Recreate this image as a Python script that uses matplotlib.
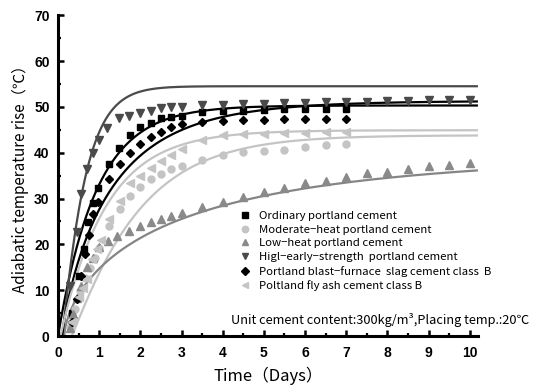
import numpy as np
import matplotlib
matplotlib.use("Agg")
import matplotlib.pyplot as plt
from matplotlib.lines import Line2D
from matplotlib.ticker import MultipleLocator

# ---- measured adiabatic temperature rise (days, deg C) ----
ord_t = [0.35, 0.5, 0.62, 0.74, 0.86, 0.97, 1.23, 1.49, 1.75, 2.0, 2.25, 2.5, 2.75, 3.0,
         3.5, 4.0, 4.5, 5.0, 5.5, 6.0, 6.5, 7.0]
ord_T = [5.0, 13.0, 19.0, 24.8, 29.0, 32.4, 37.6, 41.1, 43.8, 45.5, 46.4, 47.5, 47.7, 48.1,
         48.9, 49.2, 49.2, 49.3, 49.5, 49.5, 49.5, 49.5]

mod_t = [0.3, 0.42, 0.54, 0.66, 0.78, 0.9, 1.0, 1.25, 1.5, 1.75, 2.0, 2.25, 2.5, 2.75, 3.0,
         3.5, 4.0, 4.5, 5.0, 5.5, 6.0, 6.5, 7.0]
mod_T = [2.0, 6.0, 9.8, 12.7, 14.9, 17.0, 19.3, 24.1, 27.7, 30.5, 32.5, 34.2, 35.4, 36.5, 37.2,
         38.5, 39.4, 40.1, 40.3, 40.7, 41.2, 41.6, 41.9]

low_t = [0.3, 0.36, 0.45, 0.57, 0.7, 0.84, 1.0, 1.22, 1.43, 1.73, 2.0, 2.25, 2.5, 2.75, 3.0,
         3.5, 4.0, 4.5, 5.0, 5.5, 6.0, 6.5, 7.0, 7.5, 8.0, 8.5, 9.0, 9.5, 10.0]
low_T = [1.8, 4.8, 8.4, 10.9, 15.0, 17.0, 19.5, 20.8, 21.9, 23.0, 24.1, 24.8, 25.5, 26.3, 26.8,
         28.1, 29.2, 30.3, 31.4, 32.3, 33.3, 33.9, 34.6, 35.5, 35.9, 36.5, 37.0, 37.4, 37.7]

he_t = [0.3, 0.45, 0.55, 0.71, 0.86, 1.0, 1.2, 1.47, 1.72, 2.0, 2.25, 2.5, 2.75, 3.0,
        3.5, 4.0, 4.5, 5.0, 5.5, 6.0, 6.5, 7.0, 7.5, 8.0, 8.5, 9.0, 9.5, 10.0]
he_T = [11.0, 22.7, 31.0, 36.5, 40.0, 42.7, 45.3, 47.5, 48.0, 48.6, 49.2, 49.7, 50.0, 50.0,
        50.3, 50.5, 50.6, 50.7, 50.8, 50.9, 51.0, 51.0, 51.1, 51.2, 51.3, 51.4, 51.5, 51.6]

slag_t = [0.35, 0.45, 0.55, 0.65, 0.75, 0.86, 0.97, 1.23, 1.5, 1.75, 2.0, 2.25, 2.5, 2.75, 3.0,
          3.5, 4.0, 4.5, 5.0, 5.5, 6.0, 6.5, 7.0]
slag_T = [3.0, 8.0, 13.0, 18.0, 22.0, 26.6, 29.2, 34.3, 37.6, 40.0, 42.0, 43.4, 44.6, 45.5, 46.3,
          46.7, 47.0, 47.2, 47.2, 47.4, 47.4, 47.4, 47.4]

fly_t = [0.35, 0.5, 0.6, 0.7, 0.82, 0.95, 1.05, 1.25, 1.5, 1.75, 2.0, 2.25, 2.5, 2.75, 3.0,
         3.5, 4.0, 4.5, 5.0, 5.5, 6.0, 6.5, 7.0]
fly_T = [3.0, 8.5, 10.5, 12.4, 16.8, 19.0, 21.0, 25.5, 29.5, 33.3, 35.0, 36.7, 38.3, 39.6, 40.8,
         42.7, 43.8, 44.1, 44.1, 44.3, 44.4, 44.5, 44.5]

labels = ["Ordinary portland cement",
          "Moderate\u2212heat portland cement",
          "Low\u2212heat portland cement",
          "Higl\u2212early\u2212strength  portland cement",
          "Portland blast\u2212furnace  slag cement class  B",
          "Poltland fly ash cement class B"]

# fitted model Q(t) = Q_inf * (1 - exp(-gamma * (t - t0)^S)), same order as labels
fit_Qinf = [50.3, 43.8, 40.0, 54.5, 51.3, 44.9]
fit_gamma = [1.07, 0.58, 0.51, 1.9, 0.845, 0.9]
fit_S = [1.0, 1.08, 0.66, 1.1, 0.85, 1.0]
fit_t0 = [0.0, 0.33, 0.15, 0.1, 0.1, 0.06]

series_t = [ord_t, mod_t, low_t, he_t, slag_t, fly_t]
series_T = [ord_T, mod_T, low_T, he_T, slag_T, fly_T]
markers = ["s", "o", "^", "v", "D", "<"]
msizes = [4.4, 5.0, 5.4, 5.4, 4.4, 5.4]
pt_colors = ["#000000", "#c4c4c4", "#8a8a8a", "#4a4a4a", "#000000", "#c4c4c4"]
ln_colors = ["#000000", "#c4c4c4", "#858585", "#4a4a4a", "#000000", "#c4c4c4"]

fig = plt.figure(figsize=(5.37, 3.89), dpi=100)
ax = fig.add_axes([0.108, 0.136, 0.782, 0.825])

for i in range(6):
    tt = np.linspace(fit_t0[i], 10.2, 400)
    q = fit_Qinf[i] * (1 - np.exp(-fit_gamma[i] * (tt - fit_t0[i]) ** fit_S[i]))
    ax.plot(tt, q, color=ln_colors[i], lw=1.6, zorder=2, solid_capstyle="butt")

for i in range(6):
    ax.plot(series_t[i], series_T[i], linestyle="none", marker=markers[i],
            ms=msizes[i], color=pt_colors[i], mec=pt_colors[i], zorder=3)

ax.set_xlim(0, 10.2)
ax.set_ylim(0, 70)
ax.xaxis.set_major_locator(MultipleLocator(1))
ax.xaxis.set_minor_locator(MultipleLocator(0.5))
ax.yaxis.set_major_locator(MultipleLocator(10))
ax.yaxis.set_minor_locator(MultipleLocator(5))
ax.set_xticks(range(0, 11))

for s in ["top", "right"]:
    ax.spines[s].set_visible(False)
for s in ["left", "bottom"]:
    ax.spines[s].set_linewidth(2.2)
ax.tick_params(which="major", direction="in", length=4, width=1.8, pad=6)
ax.tick_params(which="minor", direction="in", length=2.5, width=1.6)
ax.tick_params(axis="x", which="major", pad=7)
num_font = ["Liberation Sans Narrow", "Liberation Sans", "DejaVu Sans"]
for lab in ax.get_xticklabels() + ax.get_yticklabels():
    lab.set_family(num_font)
    lab.set_fontweight("bold")
    lab.set_fontsize(10)

cjk = ["Noto Sans CJK JP", "DejaVu Sans"]
ax.set_ylabel("Adiabatic temperature rise\uff08\u2103\uff09", family=cjk, fontsize=11, labelpad=4)
ax.set_xlabel("Time\uff08Days\uff09", family=cjk, fontsize=12, labelpad=5)

handles = [Line2D([], [], linestyle="none", marker=markers[i], ms=msizes[i] - 0.4,
                  color=pt_colors[i], mec=pt_colors[i]) for i in range(6)]
ax.legend(handles, labels, loc="upper left", bbox_to_anchor=(0.445, 0.458),
          bbox_transform=fig.transFigure, frameon=False, prop={"family": cjk, "size": 8.2},
          handlelength=1.0, handletextpad=0.75, labelspacing=0.33, borderpad=0, borderaxespad=0)

fig.text(0.430, 0.178, "Unit cement content:300kg/m\u00b3,Placing temp.:20\u2103",
         family=cjk, fontsize=9.2, ha="left", va="center")

fig.savefig("out.png", dpi=100)
